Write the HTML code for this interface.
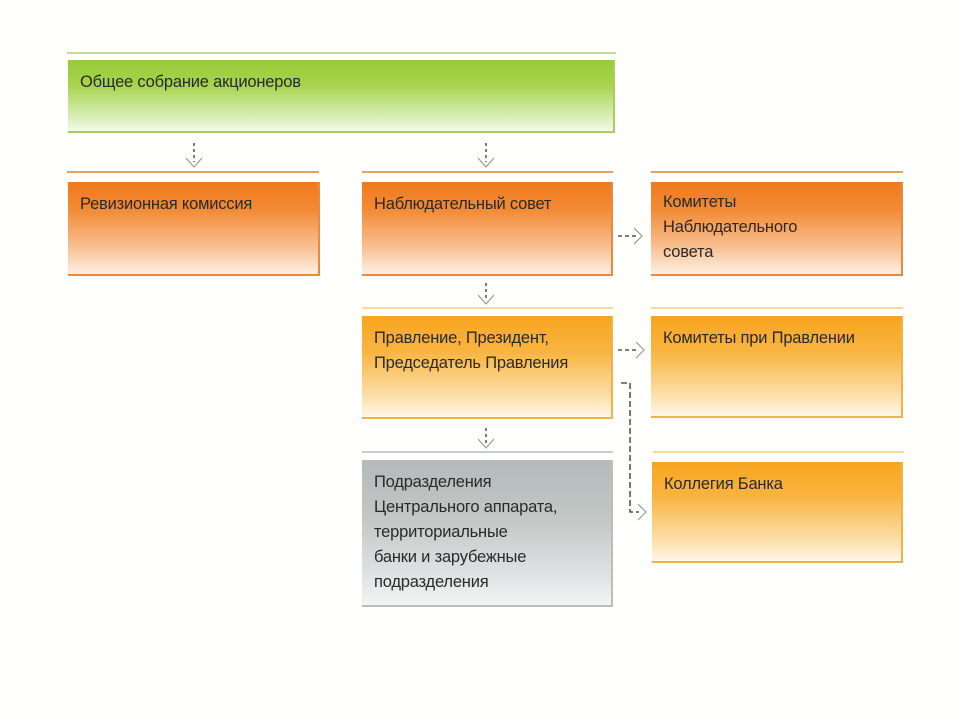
<!DOCTYPE html>
<html><head><meta charset="utf-8"><style>
body{margin:0;width:960px;height:720px;background:#fffffe;position:relative;font-family:"Liberation Sans",sans-serif;overflow:hidden}
.b{position:absolute;box-sizing:border-box;color:#2a2a2a;font-size:16.5px;line-height:25px;padding:10px 12px;letter-spacing:-0.2px}
.l{position:absolute;height:2px}
.g{background:linear-gradient(#97cb3a 0%,#a6d44c 35%,#d9eeb8 80%,#f4faea 100%);border-right:2px solid #a8cf5a;border-bottom:2px solid #a8cf5a}
.o{background:linear-gradient(#f07a1e 0%,#f28a35 30%,#f8bf90 70%,#fdf0e4 100%);border-right:2px solid #e98a3c;border-bottom:2px solid #e98a3c}
.y{background:linear-gradient(#f8a51e 0%,#f9b440 35%,#fcdba0 75%,#fff6e8 100%);border-right:2px solid #f0b34a;border-bottom:2px solid #f0b34a}
.s{background:linear-gradient(#b4bab9 0%,#c2c7c6 40%,#e0e3e3 80%,#f3f5f5 100%);border-right:2px solid #b8bebe;border-bottom:2px solid #b8bebe}
</style></head><body>
<div class="l" style="left:67px;top:52px;width:549px;background:#c5dc8c"></div>
<div class="b g" style="left:68px;top:60px;width:547px;height:73px;padding-top:10px">Общее собрание акционеров</div>

<div class="l" style="left:67px;top:171px;width:252px;background:#e7a060"></div>
<div class="l" style="left:362px;top:171px;width:251px;background:#e7a060"></div>
<div class="l" style="left:651px;top:171px;width:252px;background:#e7a060"></div>
<div class="b o" style="left:68px;top:182px;width:252px;height:94px">Ревизионная комиссия</div>
<div class="b o" style="left:362px;top:182px;width:251px;height:94px">Наблюдательный совет</div>
<div class="b o" style="left:651px;top:182px;width:252px;height:94px;line-height:25px;padding-top:8px">Комитеты<br>Наблюдательного<br>совета</div>

<div class="l" style="left:362px;top:307px;width:251px;background:#f5dc96"></div>
<div class="l" style="left:651px;top:307px;width:252px;background:#f5dc96"></div>
<div class="b y" style="left:362px;top:316px;width:251px;height:103px">Правление, Президент,<br>Председатель Правления</div>
<div class="b y" style="left:651px;top:316px;width:252px;height:102px">Комитеты при Правлении</div>

<div class="l" style="left:362px;top:451px;width:251px;background:#c8cccc"></div>
<div class="l" style="left:653px;top:451px;width:251px;background:#f5dc96"></div>
<div class="b s" style="left:362px;top:460px;width:251px;height:147px">Подразделения<br>Центрального аппарата,<br>территориальные<br>банки и зарубежные<br>подразделения</div>
<div class="b y" style="left:652px;top:462px;width:251px;height:101px">Коллегия Банка</div>

<svg style="position:absolute;left:0;top:0" width="960" height="720">
<g stroke="#333" stroke-width="1.3" fill="none">
<line x1="194" y1="143" x2="194" y2="162" stroke-dasharray="3,3"/>
<line x1="486" y1="143" x2="486" y2="162" stroke-dasharray="3,3"/>
<line x1="486" y1="283" x2="486" y2="299" stroke-dasharray="3,3"/>
<line x1="486" y1="428" x2="486" y2="444" stroke-dasharray="3,3"/>
<line x1="618" y1="236" x2="636" y2="236" stroke-dasharray="4,3"/>
<line x1="618" y1="350" x2="638" y2="350" stroke-dasharray="4,3"/>
<polyline points="621,383 630,383 630,512 639,512" stroke-dasharray="6,3"/>
</g>
<g stroke="#999" stroke-width="1.2" fill="none">
<polyline points="186,158 194,167 202,158"/>
<polyline points="478,158 486,167 494,158"/>
<polyline points="478,295 486,304 494,295"/>
<polyline points="478,439 486,448 494,439"/>
<polyline points="634,228 642,236 634,244"/>
<polyline points="636,342 644,350 636,358"/>
<polyline points="638,504 646,512 638,520"/>
</g>
</svg>
</body></html>
